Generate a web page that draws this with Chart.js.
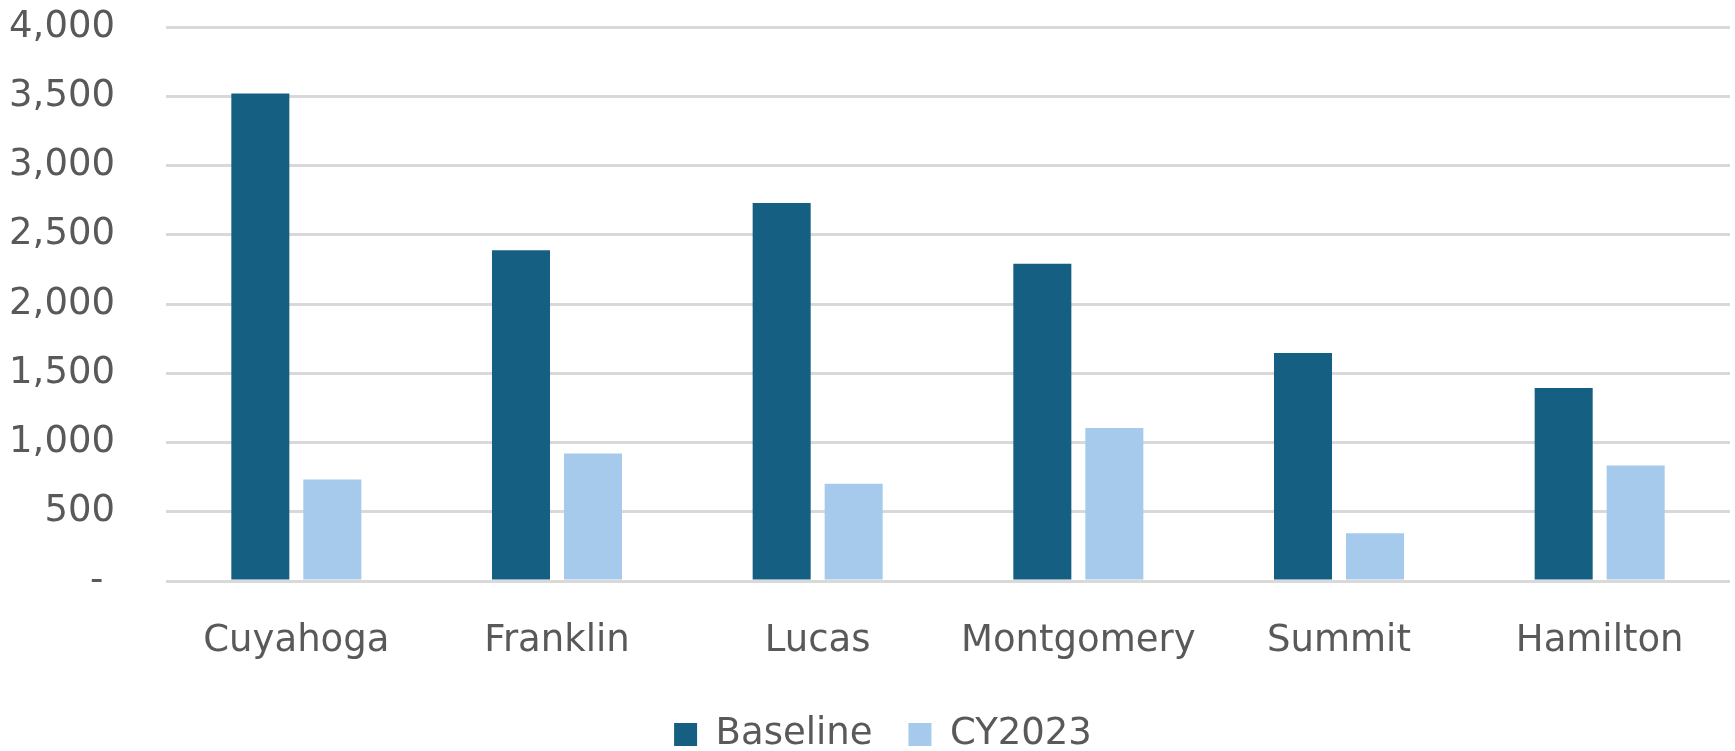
<!DOCTYPE html>
<html>
<head>
<meta charset="utf-8">
<script src="https://cdn.jsdelivr.net/npm/chart.js@4/dist/chart.umd.min.js"></script>
<style>
  html, body { margin: 0; padding: 0; background: #ffffff; }
  #wrap { width: 1735px; height: 751px; position: relative; }
</style>
</head>
<body>
<div id="wrap"><canvas id="chart" width="1735" height="751"></canvas></div>
<script>
// County totals: baseline period vs. calendar year 2023
const counties = ['Cuyahoga', 'Franklin', 'Lucas', 'Montgomery', 'Summit', 'Hamilton'];
const baseline = [3520, 2388, 2730, 2290, 1647, 1393];
const cy2023 = [733, 920, 702, 1105, 345, 834];
const yTickValues = [0, 500, 1000, 1500, 2000, 2500, 3000, 3500, 4000];
const yTickLabels = ['- ', '500', '1,000', '1,500', '2,000', '2,500', '3,000', '3,500', '4,000'];

const textColor = '#595959';
const fontFamily = '"DejaVu Sans", sans-serif';

// Nudge the legend block a little to the right of the canvas centre
const legendOffset = {
  id: 'legendOffset',
  afterLayout(chart) {
    if (chart.legend) {
      chart.legend.left += 36;
    }
  }
};

new Chart(document.getElementById('chart'), {
  type: 'bar',
  data: {
    labels: counties,
    datasets: [
      { label: 'Baseline', data: baseline, backgroundColor: '#156082', borderWidth: 0 },
      { label: 'CY2023', data: cy2023, backgroundColor: '#A6CAEC', borderWidth: 0 }
    ]
  },
  plugins: [legendOffset],
  options: {
    responsive: false,
    animation: false,
    devicePixelRatio: 1,
    layout: { padding: { top: 27, right: 5, left: 0, bottom: -12 } },
    datasets: { bar: { barPercentage: 0.806, categoryPercentage: 0.5524 } },
    plugins: {
      tooltip: { enabled: false },
      legend: {
        position: 'bottom',
        labels: {
          boxWidth: 23,
          boxHeight: 23,
          padding: 36,
          color: textColor,
          font: { family: fontFamily, size: 37 }
        }
      }
    },
    scales: {
      x: {
        grid: { display: false, drawTicks: false },
        border: { display: false },
        ticks: { color: textColor, padding: 38, font: { family: fontFamily, size: 37 } },
        afterFit: (scale) => { scale.height = 99; }
      },
      y: {
        min: 0,
        max: 4000,
        afterBuildTicks: (scale) => { scale.ticks = yTickValues.map(v => ({ value: v })); },
        afterFit: (scale) => {
          scale.width = 166;
          scale.paddingTop = 0;
          scale.paddingBottom = 0;
        },
        grid: { color: '#D9D9D9', lineWidth: 3, drawTicks: false },
        border: { display: false },
        ticks: {
          color: textColor,
          padding: 51,
          font: { family: fontFamily, size: 37 },
          callback: (value) => yTickLabels[yTickValues.indexOf(value)]
        }
      }
    }
  }
});
</script>
</body>
</html>
